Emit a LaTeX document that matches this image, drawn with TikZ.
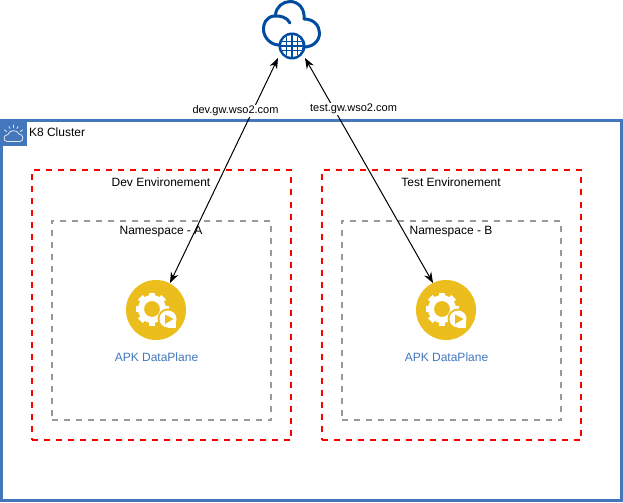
\documentclass[tikz,border=0pt]{standalone}
\usepackage{fontspec}
\setmainfont{Liberation Sans}
\definecolor{frameblue}{HTML}{4376BB}
\definecolor{cloudblue}{HTML}{004C9F}
\definecolor{gold}{HTML}{EBBD1D}
\definecolor{linkblue}{HTML}{4277BB}
\definecolor{dashgrey}{HTML}{999999}
\def\u{0.75pt}
\usetikzlibrary{arrows.meta}
\tikzset{
  x=0.75pt,y=-0.75pt,
  every node/.style={font=\fontsize{9}{10.8}\selectfont,text=black,inner sep=0pt,outer sep=0pt},
  boxnode/.style={draw,rectangle,anchor=north west},
  envbox/.style={boxnode,draw=red,line width=1.5pt,dash pattern=on 4.5pt off 4.5pt},
  nsbox/.style={boxnode,draw=dashgrey,line width=1.5pt,dash pattern=on 4.5pt off 4.5pt},
  clusterbox/.style={boxnode,draw=frameblue,line width=2.25pt},
  dpcircle/.style={circle,fill=gold,minimum size=60*\u},
  linklabel/.style={fill=white,font=\fontsize{8.25}{9.9}\selectfont,inner xsep=0.5pt,inner ysep=1pt},
  dplabel/.style={text=linkblue},
  conn/.style={{Stealth[length=8pt,width=6pt]}-{Stealth[length=8pt,width=6pt]},line width=0.75pt},
}
\newcommand{\gearicon}[2]{%
  \begin{scope}[shift={(#1,#2)}]
    \begin{scope}[shift={(-4,-1)}]
      \foreach \a in {0,45,...,315}{
        \fill[white,rotate=\a] (-3.2,-16.5) rectangle (3.2,-10);
      }
      \fill[white,even odd rule] (0,0) circle[radius=14*\u] (0,0) circle[radius=8*\u];
    \end{scope}
    \fill[gold] (12,9) circle[radius=10.5*\u];
    \fill[gold] (12,9) rectangle (21,19);
    \fill[white] (12,9) circle[radius=8.5*\u];
    \fill[white] (12,9) rectangle (20,17.5);
    \fill[gold] (9,4.5) -- (17.5,9) -- (9,14) -- cycle;
  \end{scope}}
\begin{document}
\begin{tikzpicture}
\useasboundingbox (0,0) rectangle (623,502);
\fill[white] (0,0) rectangle (623,502);
% cluster frame
\node[clusterbox,minimum width=620*\u,minimum height=380*\u] (cluster) at (1.5,120.5) {};
\node[fill=frameblue,anchor=north west,minimum width=27*\u,minimum height=26*\u] (k8icon) at (0,120) {};
\draw[white,line width=0.6pt,line cap=round,line join=round,opacity=.85]
  (7,141.5) .. controls (3,141.5) and (3,134.5) .. (8,134.5)
  .. controls (9,130) and (17,129) .. (19,134)
  .. controls (24,134) and (24,141.5) .. (20,141.5) -- cycle
  (4.5,130) -- (6.5,131.5) (9,126.5) -- (10,128.5) (13.5,125) -- (13.5,127.5)
  (18,126.5) -- (17,128.5) (22.5,130) -- (20.5,131.5);
\node[anchor=west] (clusterlabel) at (29,132) {K8 Cluster};
% environments
\node[envbox,minimum width=259.5*\u,minimum height=269.5*\u] (devenv) at (31.5,170.5) {};
\node[envbox,minimum width=259.5*\u,minimum height=269.5*\u] (testenv) at (321.5,170.5) {};
\node[nsbox,minimum width=219.5*\u,minimum height=199.5*\u] (nsa) at (51.5,220.5) {};
\node[nsbox,minimum width=219.5*\u,minimum height=199.5*\u] (nsb) at (341.5,220.5) {};
\node (devlabel) at (161,182) {Dev Environement};
\node (testlabel) at (451,182) {Test Environement};
\node (nsalabel) at (161,232) {Namespace - A};
\node (nsblabel) at (451,232) {Namespace - B};
% dataplanes
\node[dpcircle] (dpa) at (156,310) {};
\node[dpcircle] (dpb) at (446,310) {};
\gearicon{156}{310}
\gearicon{446}{310}
\node[dplabel] (dpalabel) at (156.5,357) {APK DataPlane};
\node[dplabel] (dpblabel) at (446.5,357) {APK DataPlane};
% cloud
\draw[cloudblue,line width=2.25pt,line cap=round,line join=round]
  (290,23) .. controls (287,17) and (280,15.5) .. (274,16)
  .. controls (266,17) and (263,24) .. (263.5,30)
  .. controls (264,38) and (271,45) .. (279,45);
\draw[cloudblue,line width=2.25pt,line cap=round,line join=round]
  (275.5,15) .. controls (276,7) and (283,1.5) .. (290,1.5)
  .. controls (298,1.5) and (305,8) .. (304,19)
  .. controls (314,19) and (319.5,26) .. (319.5,33)
  .. controls (319.5,41) and (313,47) .. (304,47);
\node[circle,fill=cloudblue,minimum size=27*\u] (globe) at (292,46) {};
\begin{scope}
  \clip (292,46) circle[radius=11*\u];
  \fill[white] (292,46) circle[radius=11*\u];
  \draw[cloudblue,line width=1pt]
    (279,41.5) -- (305,41.5) (279,46) -- (305,46) (279,50.5) -- (305,50.5)
    (292,34) -- (292,58) (286.5,34) -- (286.5,58) (297.5,34) -- (297.5,58);
\end{scope}
% connectors
\coordinate (inA) at (278,58);
\coordinate (outA) at (170,283);
\coordinate (inB) at (305,58);
\coordinate (outB) at (433,283);
\draw[conn] (inA) -- (outA);
\draw[conn] (inB) -- (outB);
\node[linklabel] (devlink) at (235.5,111) {dev.gw.wso2.com};
\node[linklabel] (testlink) at (353.5,109) {test.gw.wso2.com};
\end{tikzpicture}
\end{document}
